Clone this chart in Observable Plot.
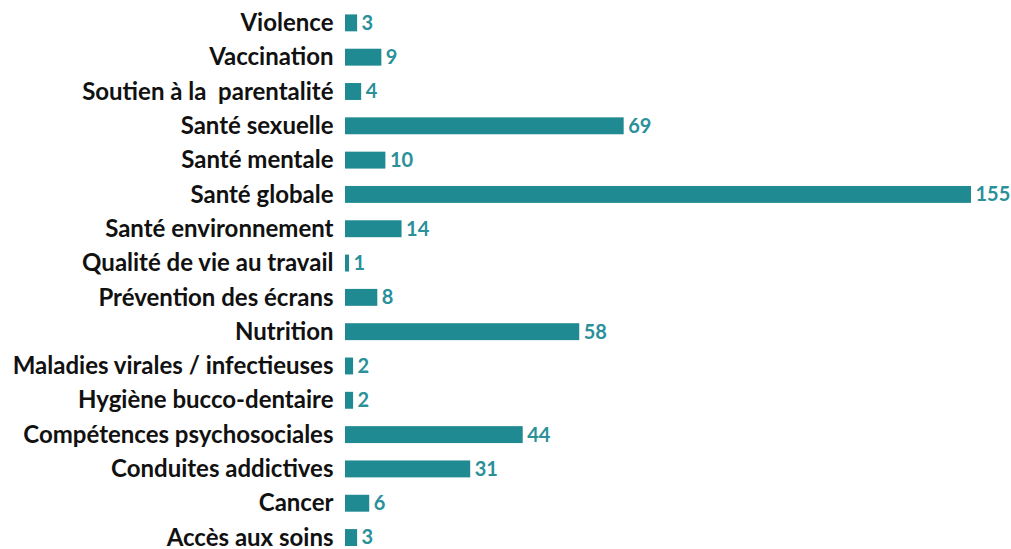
<!DOCTYPE html>
<html><head><meta charset="utf-8">
<script src="https://cdn.jsdelivr.net/npm/d3@7"></script>
<script src="https://cdn.jsdelivr.net/npm/@observablehq/plot@0.6"></script>
<style>body{margin:0;background:#fff;}</style>
</head><body><div id="chart"></div>
<script>
const categories = ["Violence","Vaccination","Soutien à la  parentalité","Santé sexuelle","Santé mentale","Santé globale","Santé environnement","Qualité de vie au travail","Prévention des écrans","Nutrition","Maladies virales / infectieuses","Hygiène bucco-dentaire","Compétences psychosociales","Conduites addictives","Cancer","Accès aux soins"];
const values = [3,9,4,69,10,155,14,1,8,58,2,2,44,31,6,3];
const data = categories.map((c,i)=>({cat:c, v:values[i]}));
const teal = "#1f8a92";
const chart = Plot.plot({
  width: 1011, height: 549,
  marginLeft: 345, marginRight: 40, marginTop: 0, marginBottom: 3,
  style: {fontFamily: "Lato, 'Open Sans', sans-serif", background: "#fff"},
  x: {domain: [0,155], axis: null},
  y: {domain: categories, paddingInner: 0.507, paddingOuter: 0.21, align: 1, round: false, label: null},
  marks: [
    Plot.barX(data, {y: "cat", x: "v", fill: teal}),
    Plot.text(data, {y: "cat", x: "v", text: d=>String(d.v), textAnchor: "start", dx: 4, fill: "#2a9099", fontSize: 20, fontWeight: "bold"}),
    Plot.axisY({tickSize: 0, tickPadding: 12, fontSize: 24, fontWeight: "bold", color: "#111", label: null})
  ]
});
document.getElementById("chart").append(chart);
</script></body></html>
